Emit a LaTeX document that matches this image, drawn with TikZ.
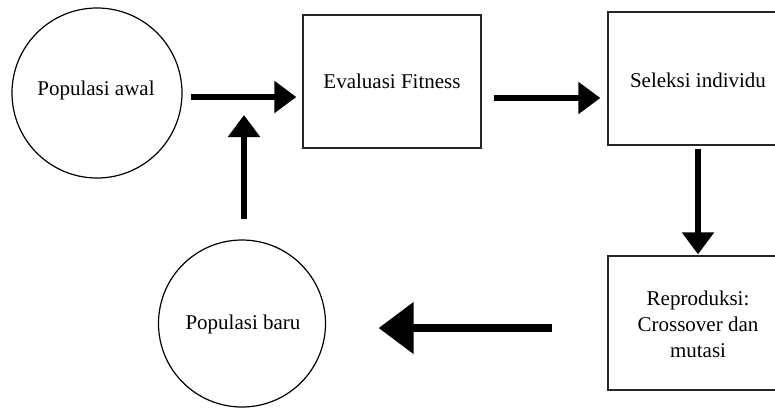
\documentclass[tikz,border=0pt]{standalone}
\usepackage{fontspec}
\setmainfont{Liberation Serif}
\usetikzlibrary{arrows.meta}
\begin{document}
\begin{tikzpicture}[x=1pt,y=-1pt,
  every node/.style={font=\fontsize{21}{26}\selectfont, align=center, inner sep=0pt},
  popcircle/.style={draw=black, circle, line width=1.2pt},
  procbox/.style={draw=black!85, rectangle, line width=1.3pt, minimum width=180pt, minimum height=133pt},
  flow/.style={line width=6pt, -{Triangle[length=22pt,width=31pt]}},
  bigflow/.style={line width=8pt, -{Triangle[length=35pt,width=50pt]}}]
\clip (0,0) rectangle (775,408);
\fill[white] (0,0) rectangle (775,408);
\node[popcircle, minimum size=170pt] (awal) at (97,93) {};
\node at (96,90) {Populasi awal};
\node[procbox, minimum width=178pt] (eval) at (392,81.5) {};
\node at (392,81) {Evaluasi Fitness};
\node[procbox] (sel) at (698,78.5) {};
\node at (698,80) {Seleksi individu};
\node[procbox, minimum height=134pt] (rep) at (698,323) {};
\node at (698,324.5) {Reproduksi:\\Crossover dan\\mutasi};
\node[popcircle, minimum size=167pt] (baru) at (242,323.5) {};
\node at (243,324) {Populasi baru};
\coordinate (join) at (244,115);
\draw[flow] ([xshift=8pt,yshift=-4pt]awal.east) -- ([xshift=-6pt,yshift=-15.5pt]eval.west);
\draw[flow] ([xshift=12pt,yshift=-16.5pt]eval.east) -- ([xshift=-7pt,yshift=-19.5pt]sel.west);
\draw[flow] ([yshift=-3pt]sel.south) -- ([yshift=1pt]rep.north);
\draw[bigflow] ([xshift=-55pt,yshift=-5pt]rep.west) -- ([xshift=52.5pt,yshift=-4.5pt]baru.east);
\draw[flow] ([xshift=2pt,yshift=20pt]baru.north) -- (join);
\end{tikzpicture}
\end{document}
